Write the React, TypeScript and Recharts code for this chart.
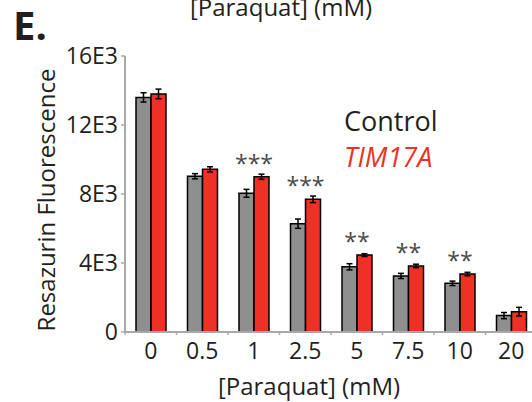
import React from "react";
import { BarChart, Bar, XAxis, YAxis, ErrorBar, LabelList } from "recharts";

const categories = ["0", "0.5", "1", "2.5", "5", "7.5", "10", "20"];
const controlValues = [13600, 9030, 8040, 6280, 3780, 3250, 2820, 950];
const tim17aValues = [13800, 9430, 9000, 7690, 4460, 3830, 3360, 1180];
const controlErrors = [270, 150, 230, 270, 180, 150, 130, 180];
const tim17aErrors = [280, 150, 150, 190, 80, 100, 100, 250];
const significance = ["", "", "***", "***", "**", "**", "**", ""];
const yTicks = [0, 4000, 8000, 12000, 16000];
const yTickLabels = ["0", "4E3", "8E3", "12E3", "16E3"];

const data = categories.map((c, i) => ({
  category: c,
  control: controlValues[i],
  controlErr: controlErrors[i],
  tim17a: tim17aValues[i],
  tim17aErr: tim17aErrors[i],
  sig: significance[i],
}));

const FONT = "'Open Sans', sans-serif";
const AXIS_GRAY = "#a8a8a8";
const TEXT = "#231f20";
const RED = "#ee3124";
const GRAY = "#8f8f8f";

const XTick = (props: any) => {
  const { x, y, payload } = props;
  const half = payload && payload.offset ? payload.offset : 25.75;
  return (
    <g>
      <line x1={x - half} y1={y} x2={x - half} y2={y + 3} stroke={AXIS_GRAY} strokeWidth={1.5} />
      <text x={x} y={y + 27} textAnchor="middle" fill={TEXT} fontSize={23} fontFamily={FONT}>
        {payload.value}
      </text>
    </g>
  );
};

const SigLabel = (props: any) => {
  const { x, y, value } = props;
  if (!value) return null;
  return (
    <text x={x} y={y - 5} textAnchor="middle" fill="#4a4a4a" fontSize={23} fontFamily={FONT}>
      {value}
    </text>
  );
};

export default function App() {
  return (
    <div
      style={{
        position: "fixed",
        left: 0,
        top: 0,
        width: 532,
        height: 402,
        overflow: "hidden",
        background: "#fff",
        fontFamily: FONT,
      }}
    >
      <BarChart
        width={545}
        height={402}
        data={data}
        margin={{ top: 56, right: 8, bottom: 0, left: 0 }}
        barGap={0}
      >
        <XAxis
          dataKey="category"
          height={70}
          interval={0}
          tickLine={false}
          tickSize={0}
          tickMargin={0}
          axisLine={{ stroke: AXIS_GRAY, strokeWidth: 2 }}
          tick={<XTick />}
        />
        <YAxis
          width={125}
          domain={[0, 16000]}
          ticks={yTicks}
          interval={0}
          tickFormatter={(v: number) => yTickLabels[yTicks.indexOf(v)]}
          axisLine={{ stroke: AXIS_GRAY, strokeWidth: 2 }}
          tickLine={{ stroke: AXIS_GRAY, strokeWidth: 1.5 }}
          tickSize={4}
          tickMargin={3}
          tick={{ fill: TEXT, fontSize: 23, fontFamily: FONT }}
        />
        <Bar
          dataKey="control"
          fill={GRAY}
          stroke="#000"
          strokeWidth={1.5}
          barSize={15}
          isAnimationActive={false}
        >
          <ErrorBar dataKey="controlErr" width={3} stroke="#000" strokeWidth={1.5} isAnimationActive={false} />
        </Bar>
        <Bar
          dataKey="tim17a"
          fill={RED}
          stroke="#000"
          strokeWidth={1.5}
          barSize={15}
          isAnimationActive={false}
        >
          <ErrorBar dataKey="tim17aErr" width={3} stroke="#000" strokeWidth={1.5} isAnimationActive={false} />
          <LabelList dataKey="sig" content={<SigLabel />} />
        </Bar>
      </BarChart>
      <svg
        width={532}
        height={402}
        style={{ position: "absolute", left: 0, top: 0, pointerEvents: "none" }}
      >
        <text x={281} y={16} textAnchor="middle" fill={TEXT} fontSize={24} fontFamily={FONT}>
          [Paraquat] (mM)
        </text>
        <text x={13} y={40} fill={TEXT} fontSize={40} fontWeight="bold" fontFamily={FONT}>
          E.
        </text>
        <text
          x={55}
          y={200}
          transform="rotate(-90, 55, 200)"
          textAnchor="middle"
          fill={TEXT}
          fontSize={24}
          fontFamily={FONT}
        >
          Resazurin Fluorescence
        </text>
        <text x={309} y={395} textAnchor="middle" fill={TEXT} fontSize={24} fontFamily={FONT}>
          [Paraquat] (mM)
        </text>
        <text x={344} y={131} fill={TEXT} fontSize={27} fontFamily={FONT}>
          Control
        </text>
        <text x={344} y={167} fill={RED} fontSize={27} fontStyle="italic" fontFamily={FONT}>
          TIM17A
        </text>
      </svg>
    </div>
  );
}
